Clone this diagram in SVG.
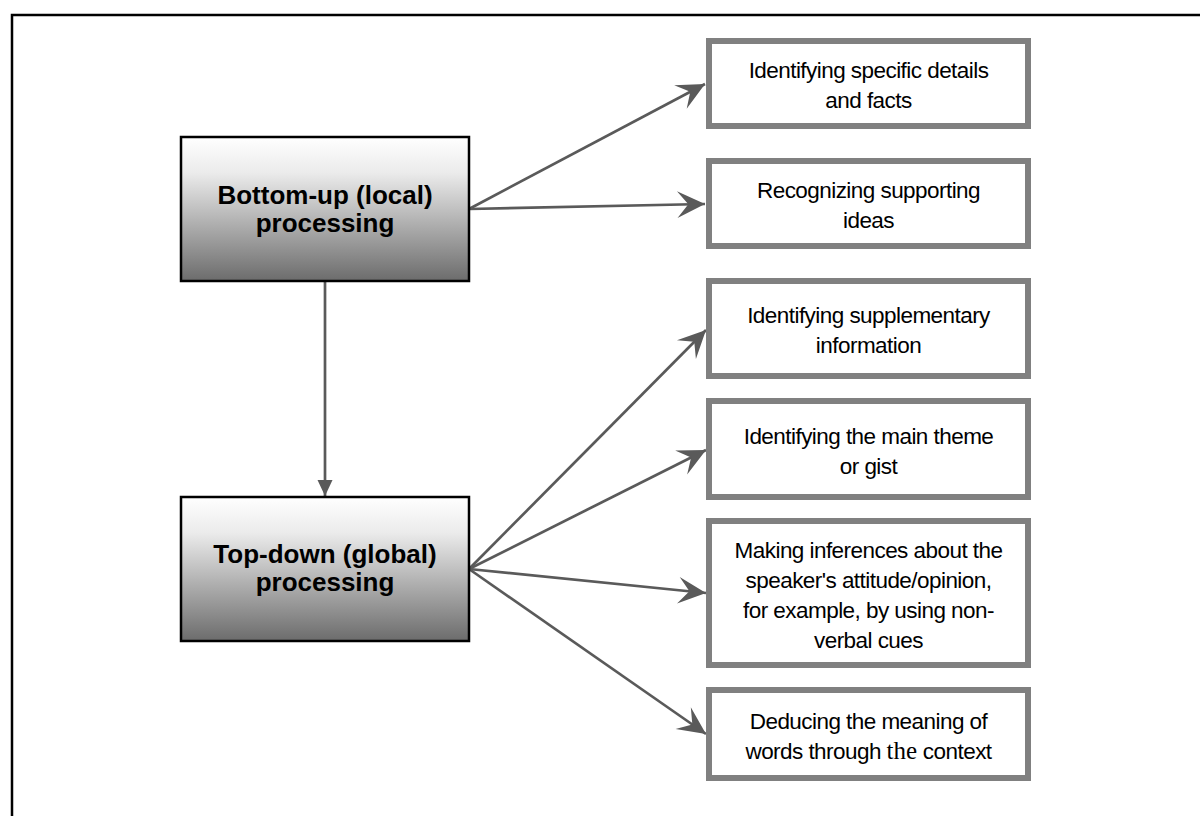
<svg xmlns="http://www.w3.org/2000/svg" width="1200" height="816" viewBox="0 0 1200 816">
<defs>
<linearGradient id="g" x1="0" y1="0" x2="0" y2="1">
<stop offset="0" stop-color="#ffffff"/>
<stop offset="0.25" stop-color="#ebebeb"/>
<stop offset="1" stop-color="#6c6c6c"/>
</linearGradient>
<marker id="barb" markerUnits="userSpaceOnUse" markerWidth="30" markerHeight="30" viewBox="-26 -13 27 26" refX="0" refY="0" orient="auto">
<path d="M0,0 L-25,-12 L-15,0 L-25,12 Z" fill="#5a5a5a"/>
</marker>
<marker id="tri" markerUnits="userSpaceOnUse" markerWidth="18" markerHeight="18" viewBox="-17 -8 18 16" refX="0" refY="0" orient="auto">
<path d="M0,0 L-16,-7.5 L-16,7.5 Z" fill="#5a5a5a"/>
</marker>
<style>
.main{fill:url(#g);stroke:#000;stroke-width:2.5}
.box{fill:#fff;stroke:#808080;stroke-width:6}
.bt{font-family:"Liberation Sans",Arial,sans-serif;font-weight:bold;font-size:26px;fill:#000;text-anchor:middle}
.t{font-family:"Liberation Sans",Arial,sans-serif;font-size:22.5px;letter-spacing:-0.55px;fill:#000;text-anchor:middle}
.serif{font-family:"Liberation Serif","Times New Roman",serif;font-size:25px;letter-spacing:0}
.c{stroke:#5a5a5a;stroke-width:2.7;fill:none}
</style>
</defs>
<rect x="0" y="0" width="1200" height="816" fill="#fff"/>
<rect x="12" y="15" width="1220" height="900" fill="none" stroke="#000" stroke-width="2.5"/>

<g id="connectors">
<line class="c" x1="469" y1="209" x2="705" y2="84" marker-end="url(#barb)"/>
<line class="c" x1="469" y1="209" x2="705" y2="204" marker-end="url(#barb)"/>
<line class="c" x1="469" y1="569" x2="706" y2="330" marker-end="url(#barb)"/>
<line class="c" x1="469" y1="569" x2="706" y2="450" marker-end="url(#barb)"/>
<line class="c" x1="469" y1="569" x2="706" y2="593" marker-end="url(#barb)"/>
<line class="c" x1="469" y1="569" x2="706" y2="734" marker-end="url(#barb)"/>
<line class="c" x1="325" y1="281" x2="325" y2="496" marker-end="url(#tri)"/>
</g>

<g id="bottom-up">
<rect class="main" x="181" y="137" width="288" height="144"/>
<text class="bt" x="325" y="204">Bottom-up (local)</text>
<text class="bt" x="325" y="232">processing</text>
</g>

<g id="top-down">
<rect class="main" x="181" y="497" width="288" height="144"/>
<text class="bt" x="325" y="563">Top-down (global)</text>
<text class="bt" x="325" y="591">processing</text>
</g>

<g id="box1">
<rect class="box" x="709" y="41" width="319" height="85"/>
<text class="t" x="868.5" y="78">Identifying specific details</text>
<text class="t" x="868.5" y="108">and facts</text>
</g>

<g id="box2">
<rect class="box" x="709" y="161" width="319" height="85"/>
<text class="t" x="868.5" y="198">Recognizing supporting</text>
<text class="t" x="868.5" y="228">ideas</text>
</g>

<g id="box3">
<rect class="box" x="709" y="281" width="319" height="95"/>
<text class="t" x="868.5" y="323">Identifying supplementary</text>
<text class="t" x="868.5" y="353">information</text>
</g>

<g id="box4">
<rect class="box" x="709" y="401" width="319" height="96"/>
<text class="t" x="868.5" y="443.5">Identifying the main theme</text>
<text class="t" x="868.5" y="473.5">or gist</text>
</g>

<g id="box5">
<rect class="box" x="709" y="521" width="319" height="144"/>
<text class="t" x="868.5" y="557.5">Making inferences about the</text>
<text class="t" x="868.5" y="587.5">speaker's attitude/opinion,</text>
<text class="t" x="868.5" y="617.5">for example, by using non-</text>
<text class="t" x="868.5" y="647.5">verbal cues</text>
</g>

<g id="box6">
<rect class="box" x="709" y="690" width="319" height="88"/>
<text class="t" x="868.5" y="728.5">Deducing the meaning of</text>
<text class="t" x="868.5" y="758.5">words through <tspan class="serif">the</tspan> context</text>
</g>
</svg>
